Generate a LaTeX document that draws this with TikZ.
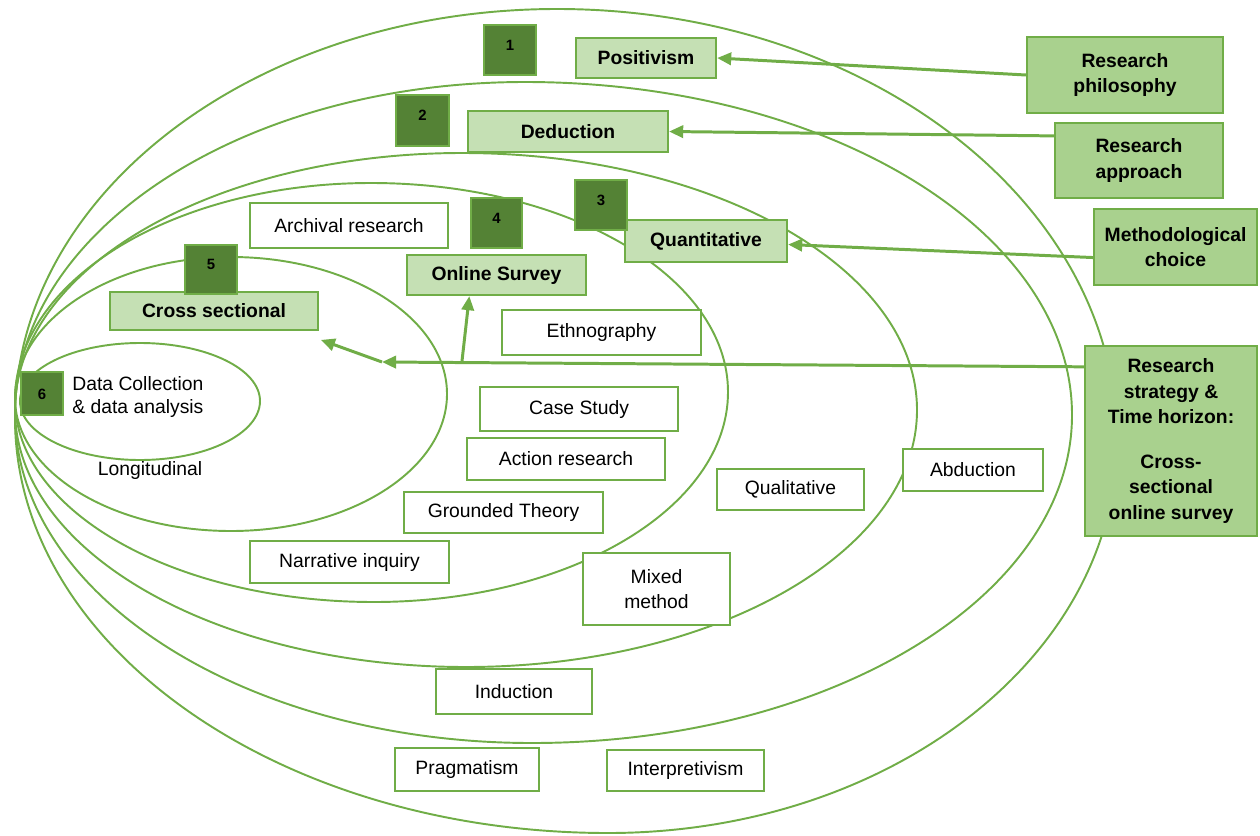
\documentclass[tikz,border=0pt]{standalone}
\usepackage{fontspec}
\setmainfont{Liberation Sans}
\usetikzlibrary{arrows.meta,calc}
\definecolor{ringgreen}{HTML}{70AD47}
\definecolor{lightfill}{HTML}{C5E0B4}
\definecolor{midfill}{HTML}{A9D18E}
\definecolor{darkfill}{HTML}{548235}

% closed ring through left, top, right and bottom extreme points (quarter-ellipse Beziers)
\newcommand\onionring[8]{%
  \draw[ring] (#1,#2)
    .. controls (#1,{#2-0.5523*(#2-#4)}) and ({#3-0.5523*(#3-#1)},#4) .. (#3,#4)
    .. controls ({#3+0.5523*(#5-#3)},#4) and (#5,{#6-0.5523*(#6-#4)}) .. (#5,#6)
    .. controls (#5,{#6+0.5523*(#8-#6)}) and ({#7+0.5523*(#5-#7)},#8) .. (#7,#8)
    .. controls ({#7-0.5523*(#7-#1)},#8) and (#1,{#2+0.5523*(#8-#2)}) .. cycle;}

% box given by its corners: style, name, x1, y1, x2, y2, text
\newcommand\pbox[7]{%
  \node[#1,minimum width={(#5-#3)*0.02cm},minimum height={(#6-#4)*0.02cm}]
    (#2) at ({(#3+#5)/2},{(#4+#6)/2}) {#7};}

\begin{document}
\begin{tikzpicture}[x=0.02cm,y=-0.02cm,
  ring/.style={draw=ringgreen,line width=1.1pt},
  basebox/.style={draw=ringgreen,line width=1.3pt,inner sep=0pt,align=center},
  plainbox/.style={basebox,fill=white,font=\fontsize{11}{14}\selectfont},
  keybox/.style={basebox,fill=lightfill,font=\fontsize{11}{14}\selectfont\bfseries},
  layerbox/.style={basebox,fill=midfill,font=\fontsize{11}{14.5}\selectfont\bfseries},
  numbox/.style={draw=ringgreen,fill=darkfill,line width=1.3pt,inner sep=0pt,
    font=\fontsize{8.5}{10}\selectfont\bfseries,text height=6.5pt,text depth=6pt},
  numboxc/.style={numbox,text height=6.5pt,text depth=0pt},
  arr/.style={draw=ringgreen,line width=1.7pt,-{Triangle[length=8pt,width=7pt]}},
]
\useasboundingbox (0,0) rectangle (1260,835);

% the six nested layers
\onionring{15}{418}{557}{9}{1117}{440}{608}{833}
\onionring{15}{414}{525}{82}{1072}{415}{532}{743}
\onionring{15}{410}{462}{153}{917}{410}{466}{667}
\onionring{15}{400}{371}{183}{728}{392}{374}{602}
\onionring{15}{398}{231}{257}{447}{394}{231}{531}
\onionring{20}{401}{140}{343}{260}{401}{140}{460}

% options in each layer
\pbox{plainbox}{archival}{250}{203}{448}{248}{Archival research}
\pbox{plainbox}{ethno}{502}{310}{701}{355}{Ethnography}
\pbox{plainbox}{casestudy}{480}{387}{678}{431}{Case Study}
\pbox{plainbox}{action}{467}{438}{665}{480}{Action research}
\pbox{plainbox}{grounded}{404}{492}{603}{533}{Grounded Theory}
\pbox{plainbox}{narrative}{250}{541}{449}{583}{Narrative inquiry}
\pbox{plainbox}{mixed}{583}{553}{730}{625}{Mixed\\method}
\pbox{plainbox}{qualit}{717}{469}{864}{510}{Qualitative}
\pbox{plainbox}{abduct}{903}{449}{1043}{491}{Abduction}
\pbox{plainbox}{induct}{436}{669}{592}{714}{Induction}
\pbox{plainbox}{pragm}{395}{748}{539}{791}{Pragmatism}
\pbox{plainbox}{interp}{607}{750}{764}{791}{Interpretivism}

% chosen options
\pbox{keybox}{posit}{576}{38}{716}{78}{Positivism}
\pbox{keybox}{deduc}{468}{111}{668}{152}{Deduction}
\pbox{keybox}{quant}{625}{220}{787}{262}{Quantitative}
\pbox{keybox}{osurv}{407}{255}{586}{295}{Online Survey}
\pbox{keybox}{csec}{110}{292}{318}{330}{Cross sectional}

% plain labels of the inner layers
\node[font=\fontsize{11}{13.6}\selectfont,align=left,anchor=west,inner sep=0pt]
  (datacol) at (72,397) {Data Collection\\\& data analysis};
\node[font=\fontsize{11}{13.6}\selectfont,inner sep=0pt] (longit) at (150,470) {Longitudinal};

% layer names on the right
\pbox{layerbox}{rphil}{1027}{37}{1223}{113}{Research\\philosophy}
\pbox{layerbox}{rappr}{1055}{123}{1223}{198}{Research\\approach}
\pbox{layerbox}{rmeth}{1094}{209}{1257}{285}{Methodological\\choice}
\pbox{layerbox}{rstrat}{1085}{346}{1257}{536}{Research\\strategy \&\\Time horizon:\\[11pt]Cross-\\sectional\\online survey}

% connectors
\coordinate (hub) at (382,362);
\coordinate (split) at (462,361);
\draw[arr] (rphil.west) -- (posit.east);
\draw[arr] ([yshift=-8pt]rappr.north west) -- (deduc.east);
\draw[arr] ([yshift=-6pt]rmeth.west) -- ([yshift=-2pt]quant.east);
\draw[arr] ([yshift=-12.5pt]rstrat.north west) -- (hub);
\draw[arr] (split) -- ($(osurv.south west)!0.35!(osurv.south east)$);
\draw[arr] (hub) -- ([xshift=1pt,yshift=-5pt]csec.south east);

% layer numbers
\pbox{numbox}{n1}{484}{25}{536}{75}{1}
\pbox{numbox}{n2}{396}{95}{449}{146}{2}
\pbox{numbox}{n3}{575}{180}{627}{230}{3}
\pbox{numbox}{n4}{471}{198}{522}{248}{4}
\pbox{numbox}{n5}{185}{245}{237}{294}{5}
\pbox{numboxc}{n6}{21}{372}{63}{415}{6}
\end{tikzpicture}
\end{document}
